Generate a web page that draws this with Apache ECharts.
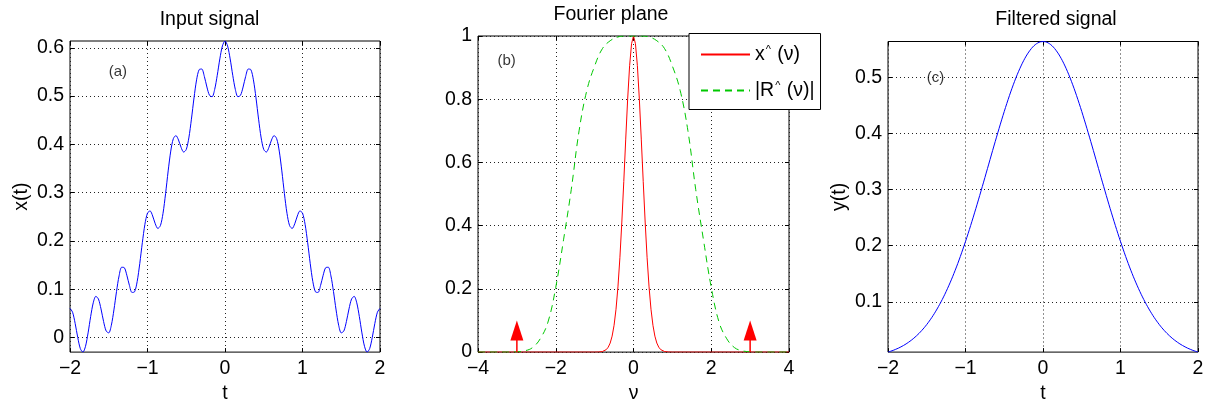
<!DOCTYPE html>
<html>
<head>
<meta charset="utf-8">
<title>Input signal / Fourier plane / Filtered signal</title>
<script src="https://cdn.jsdelivr.net/npm/echarts@6/dist/echarts.min.js"></script>
<style>
  html, body { margin: 0; padding: 0; background: #fff; }
  #chart { width: 1209px; height: 409px; }
</style>
</head>
<body>
<div id="chart"></div>
<script>
// ---- data -----------------------------------------------------------------

// sample times (s) shared by the input and filtered signals
const tSamples = [
  -2, -1.9667, -1.9333, -1.9, -1.8667, -1.8333, -1.8, -1.7667, -1.7333, -1.7,
  -1.6667, -1.6333, -1.6, -1.5667, -1.5333, -1.5, -1.4667, -1.4333, -1.4, -1.3667,
  -1.3333, -1.3, -1.2667, -1.2333, -1.2, -1.1667, -1.1333, -1.1, -1.0667, -1.0333,
  -1, -0.9667, -0.9333, -0.9, -0.8667, -0.8333, -0.8, -0.7667, -0.7333, -0.7,
  -0.6667, -0.6333, -0.6, -0.5667, -0.5333, -0.5, -0.4667, -0.4333, -0.4, -0.3667,
  -0.3333, -0.3, -0.2667, -0.2333, -0.2, -0.1667, -0.1333, -0.1, -0.0667, -0.0333,
  0,
  0.0333, 0.0667, 0.1, 0.1333, 0.1667, 0.2, 0.2333, 0.2667, 0.3, 0.3333,
  0.3667, 0.4, 0.4333, 0.4667, 0.5, 0.5333, 0.5667, 0.6, 0.6333, 0.6667,
  0.7, 0.7333, 0.7667, 0.8, 0.8333, 0.8667, 0.9, 0.9333, 0.9667, 1,
  1.0333, 1.0667, 1.1, 1.1333, 1.1667, 1.2, 1.2333, 1.2667, 1.3, 1.3333,
  1.3667, 1.4, 1.4333, 1.4667, 1.5, 1.5333, 1.5667, 1.6, 1.6333, 1.6667,
  1.7, 1.7333, 1.7667, 1.8, 1.8333, 1.8667, 1.9, 1.9333, 1.9667, 2
];

// x(t): bell-shaped pulse with a fast ripple on top
const inputSignal = [
  0.0603, 0.0522, 0.0289, -0.0002, -0.0232, -0.0304, -0.0184, 0.0094, 0.0434, 0.0718,
  0.0851, 0.0796, 0.0591, 0.0330, 0.0133, 0.0095, 0.0252, 0.0569, 0.0949, 0.1276,
  0.1454, 0.1446, 0.1289, 0.1078, 0.0932, 0.0946, 0.1157, 0.1528, 0.1963, 0.2344,
  0.2576, 0.2621, 0.2516, 0.2355, 0.2258, 0.2317, 0.2570, 0.2980, 0.3450, 0.3861,
  0.4118, 0.4182, 0.4091, 0.3938, 0.3841, 0.3894, 0.4133, 0.4522, 0.4962, 0.5337,
  0.5549, 0.5561, 0.5409, 0.5188, 0.5016, 0.4987, 0.5138, 0.5431, 0.5771, 0.6040,
  0.6142,
  0.6040, 0.5771, 0.5431, 0.5138, 0.4987, 0.5016, 0.5188, 0.5409, 0.5561, 0.5549,
  0.5337, 0.4962, 0.4522, 0.4133, 0.3894, 0.3841, 0.3938, 0.4091, 0.4182, 0.4118,
  0.3861, 0.3450, 0.2980, 0.2570, 0.2317, 0.2258, 0.2355, 0.2516, 0.2621, 0.2576,
  0.2344, 0.1963, 0.1528, 0.1157, 0.0946, 0.0932, 0.1078, 0.1289, 0.1446, 0.1454,
  0.1276, 0.0949, 0.0569, 0.0252, 0.0095, 0.0133, 0.0330, 0.0591, 0.0796, 0.0851,
  0.0718, 0.0434, 0.0094, -0.0184, -0.0304, -0.0232, -0.0002, 0.0289, 0.0522, 0.0603
];

// y(t): smooth output after filtering
const filteredSignal = [
  0.0103, 0.0118, 0.0134, 0.0153, 0.0173, 0.0196, 0.0221, 0.0249, 0.0280, 0.0314,
  0.0351, 0.0392, 0.0436, 0.0485, 0.0537, 0.0595, 0.0657, 0.0723, 0.0795, 0.0872,
  0.0954, 0.1041, 0.1134, 0.1233, 0.1337, 0.1446, 0.1562, 0.1682, 0.1808, 0.1940,
  0.2076, 0.2216, 0.2361, 0.2510, 0.2662, 0.2817, 0.2975, 0.3134, 0.3295, 0.3456,
  0.3618, 0.3778, 0.3936, 0.4092, 0.4245, 0.4394, 0.4538, 0.4676, 0.4808, 0.4932,
  0.5049, 0.5156, 0.5255, 0.5343, 0.5421, 0.5487, 0.5543, 0.5586, 0.5617, 0.5636,
  0.5642,
  0.5636, 0.5617, 0.5586, 0.5543, 0.5487, 0.5421, 0.5343, 0.5255, 0.5156, 0.5049,
  0.4932, 0.4808, 0.4676, 0.4538, 0.4394, 0.4245, 0.4092, 0.3936, 0.3778, 0.3618,
  0.3456, 0.3295, 0.3134, 0.2975, 0.2817, 0.2662, 0.2510, 0.2361, 0.2216, 0.2076,
  0.1940, 0.1808, 0.1682, 0.1562, 0.1446, 0.1337, 0.1233, 0.1134, 0.1041, 0.0954,
  0.0872, 0.0795, 0.0723, 0.0657, 0.0595, 0.0537, 0.0485, 0.0436, 0.0392, 0.0351,
  0.0314, 0.0280, 0.0249, 0.0221, 0.0196, 0.0173, 0.0153, 0.0134, 0.0118, 0.0103
];

// spectrum of the pulse, x^(nu)
const nuSpectrum = [
  -4, -1, -0.95, -0.9, -0.85, -0.8, -0.75, -0.7, -0.65, -0.6, -0.55, -0.5, -0.45, -0.4,
  -0.35, -0.3, -0.25, -0.2, -0.15, -0.1, -0.05, 0, 0.05, 0.1, 0.15, 0.2, 0.25, 0.3,
  0.35, 0.4, 0.45, 0.5, 0.55, 0.6, 0.65, 0.7, 0.75, 0.8, 0.85, 0.9, 0.95, 1, 4
];
const spectrumValues = [
  0, 0, 0.0001, 0.0003, 0.0008, 0.0018, 0.0039, 0.0079, 0.0155, 0.0286, 0.0505, 0.0848,
  0.1355, 0.2062, 0.2985, 0.4114, 0.5396, 0.6738, 0.8009, 0.9060, 0.9756, 1,
  0.9756, 0.9060, 0.8009, 0.6738, 0.5396, 0.4114, 0.2985, 0.2062, 0.1355, 0.0848,
  0.0505, 0.0286, 0.0155, 0.0079, 0.0039, 0.0018, 0.0008, 0.0003, 0.0001, 0, 0
];

// ripple lines of the spectrum, drawn as arrows
const ripplePositions = [-3, 3];
const rippleHeights = [0.1, 0.1];

// filter magnitude |R^(nu)|
const nuFilter = [
  -4, -3.8, -3.6, -3.4, -3.2, -3, -2.8, -2.6, -2.4, -2.2, -2, -1.8, -1.6, -1.4, -1.2,
  -1, -0.8, -0.6, -0.4, -0.2, 0, 0.2, 0.4, 0.6, 0.8, 1, 1.2, 1.4, 1.6, 1.8, 2,
  2.2, 2.4, 2.6, 2.8, 3, 3.2, 3.4, 3.6, 3.8, 4
];
const filterValues = [
  0, 0, 0, 0, 0, 0.001, 0.004, 0.014, 0.042, 0.095, 0.205, 0.355, 0.515, 0.700, 0.828,
  0.905, 0.960, 0.985, 0.997, 1, 1, 1, 0.997, 0.985, 0.960, 0.905, 0.828, 0.700, 0.515, 0.355, 0.205,
  0.095, 0.042, 0.014, 0.004, 0.001, 0, 0, 0, 0, 0
];

// tick values and axis texts
const timeTicks = [-2, -1, 0, 1, 2];
const nuTicks = [-4, -2, 0, 2, 4];
const inputTicks = [0, 0.1, 0.2, 0.3, 0.4, 0.5, 0.6];
const spectrumTicks = [0, 0.2, 0.4, 0.6, 0.8, 1];
const filteredTicks = [0.1, 0.2, 0.3, 0.4, 0.5];
const panelTitles = ['Input signal', 'Fourier plane', 'Filtered signal'];
const panelTags = ['(a)', '(b)', '(c)'];
const tagX = [-1.5, -3.5, -1.5];
const tagY = [0.55, 0.92, 0.5];
const seriesNames = ['x^ (\u03bd)', '|R^ (\u03bd)|'];

// ---- helpers --------------------------------------------------------------

const FONT = "'Liberation Sans', Arial, Helvetica, sans-serif";
const FS = 19.5;
const zip = (xs, ys) => xs.map((x, i) => [x, ys[i]]);
const fmt = v => (v < 0 ? '\u2212' + Math.abs(v) : String(v));

const dotted = { color: '#222', width: 1, type: [1, 3] };
const tickStyle = { show: true, inside: true, length: 4, lineStyle: { color: '#000' } };
const hiddenLine = { show: false, onZero: false };

function mainX(grid, name, ticks, gap) {
  return {
    type: 'value', gridIndex: grid, position: 'bottom',
    min: ticks[0], max: ticks[ticks.length - 1], interval: ticks[1] - ticks[0],
    name: name, nameLocation: 'middle', nameGap: gap,
    nameTextStyle: { fontFamily: FONT, fontSize: FS, color: '#000' },
    axisLine: hiddenLine,
    axisTick: tickStyle,
    axisLabel: { fontFamily: FONT, fontSize: FS, color: '#000', margin: 7, formatter: fmt },
    splitLine: { show: true, lineStyle: dotted }
  };
}
function topX(grid, ticks) {
  return {
    type: 'value', gridIndex: grid, position: 'top',
    min: ticks[0], max: ticks[ticks.length - 1], interval: ticks[1] - ticks[0],
    axisLine: hiddenLine,
    axisTick: tickStyle,
    axisLabel: { show: false }, splitLine: { show: false }
  };
}
function mainY(grid, name, min, max, ticks, gap) {
  return {
    type: 'value', gridIndex: grid, position: 'left', min: min, max: max,
    name: name, nameLocation: 'middle', nameGap: gap, nameRotate: 90,
    nameTextStyle: { fontFamily: FONT, fontSize: FS, color: '#000' },
    axisLine: hiddenLine,
    axisTick: Object.assign({ customValues: ticks }, tickStyle),
    axisLabel: { fontFamily: FONT, fontSize: FS, color: '#000', margin: 6, formatter: fmt, customValues: ticks },
    splitLine: { show: true, lineStyle: dotted }
  };
}
function rightY(grid, min, max, ticks) {
  return {
    type: 'value', gridIndex: grid, position: 'right', min: min, max: max,
    axisLine: hiddenLine,
    axisTick: Object.assign({ customValues: ticks }, tickStyle),
    axisLabel: { show: false, customValues: ticks }, splitLine: { show: false }
  };
}

const inMin = Math.min(...inputSignal), inMax = Math.max(...inputSignal);
const outMin = Math.min(...filteredSignal), outMax = Math.max(...filteredSignal);

const gridBox = { show: true, borderColor: '#000', borderWidth: 1, backgroundColor: '#fff' };

const chart = echarts.init(document.getElementById('chart'), null, { renderer: 'canvas' });

chart.setOption({
  backgroundColor: '#fff',
  animation: false,
  grid: [
    Object.assign({ left: 70, top: 41, width: 310, height: 313 }, gridBox),
    Object.assign({ left: 478, top: 36, width: 311, height: 325 }, gridBox),
    Object.assign({ left: 888, top: 41.5, width: 310, height: 312.5 }, gridBox)
  ],
  xAxis: [
    mainX(0, 't', timeTicks, 29),
    mainX(1, '\u03bd', nuTicks, 28),
    mainX(2, 't', timeTicks, 29),
    topX(0, timeTicks), topX(1, nuTicks), topX(2, timeTicks)
  ],
  yAxis: [
    mainY(0, 'x(t)', inMin, inMax, inputTicks, 38),
    mainY(1, '', 0, 1, spectrumTicks, 38),
    mainY(2, 'y(t)', outMin, outMax, filteredTicks, 38),
    rightY(0, inMin, inMax, inputTicks),
    rightY(1, 0, 1, spectrumTicks),
    rightY(2, outMin, outMax, filteredTicks)
  ],
  legend: {
    data: seriesNames,
    orient: 'vertical', left: 689, top: 33.5,
    padding: [11, 6, 9, 11], itemGap: 16, itemWidth: 49, itemHeight: 14,
    backgroundColor: '#fff', borderColor: '#000', borderWidth: 1, borderRadius: 0,
    z: 10, selectedMode: false,
    itemStyle: { opacity: 0, color: 'rgba(0,0,0,0)', borderWidth: 0 },
    textStyle: {
      fontFamily: FONT, fontSize: FS, color: '#000',
      rich: { s: { fontFamily: FONT, fontSize: 11, color: '#000', verticalAlign: 'top', padding: [0, 1, 0, 1] } }
    },
    formatter: n => n.replace('^', '{s|^}')
  },
  graphic: panelTitles.map((text, i) => ({
    type: 'text',
    x: [209.5, 611, 1056][i], y: [20, 15, 20][i],
    style: { text: text, fontFamily: FONT, fontSize: FS, fill: '#000', align: 'center', verticalAlign: 'middle' },
    silent: true
  })),
  series: [
    {
      name: 'input', type: 'line', xAxisIndex: 0, yAxisIndex: 0,
      data: zip(tSamples, inputSignal), smooth: 0.3, showSymbol: false, symbol: 'none',
      lineStyle: { color: '#0000ff', width: 1 }, z: 3
    },
    {
      name: seriesNames[0], type: 'line', xAxisIndex: 1, yAxisIndex: 1,
      data: zip(nuSpectrum, spectrumValues), showSymbol: false, symbol: 'none',
      color: '#ff0000', lineStyle: { color: '#ff0000', width: 1 }, z: 3
    },
    {
      name: seriesNames[1], type: 'line', xAxisIndex: 1, yAxisIndex: 1,
      data: zip(nuFilter, filterValues), smooth: 0.4, showSymbol: false, symbol: 'none',
      color: '#00c800', lineStyle: { color: '#00c800', width: 1, type: [7, 5] }, z: 4
    },
    {
      name: 'ripple', type: 'custom', xAxisIndex: 1, yAxisIndex: 1,
      data: zip(ripplePositions, rippleHeights), z: 5,
      renderItem: (params, api) => {
        const base = api.coord([api.value(0), 0]);
        const tip = api.coord([api.value(0), api.value(1)]);
        const headLen = 20, headHalf = 6.5;
        return {
          type: 'group',
          children: [
            { type: 'line', shape: { x1: base[0], y1: base[1], x2: tip[0], y2: tip[1] + headLen - 1 },
              style: { stroke: '#ff0000', lineWidth: 1.5 } },
            { type: 'polygon', shape: { points: [[tip[0], tip[1]], [tip[0] - headHalf, tip[1] + headLen], [tip[0] + headHalf, tip[1] + headLen]] },
              style: { fill: '#ff0000' } }
          ]
        };
      }
    },
    {
      name: 'filtered', type: 'line', xAxisIndex: 2, yAxisIndex: 2,
      data: zip(tSamples, filteredSignal), smooth: 0.3, showSymbol: false, symbol: 'none',
      lineStyle: { color: '#0000ff', width: 1 }, z: 3
    }
  ].concat(panelTags.map((tag, i) => ({
    name: 'tag' + i, type: 'scatter', xAxisIndex: i, yAxisIndex: i,
    data: [{ value: [tagX[i], tagY[i]], name: tag }],
    symbolSize: 0, silent: true, z: 6,
    label: {
      show: true, position: 'right', distance: 0, formatter: '{b}',
      fontFamily: FONT, fontSize: 15, color: '#000'
    }
  })))
});
</script>
</body>
</html>
